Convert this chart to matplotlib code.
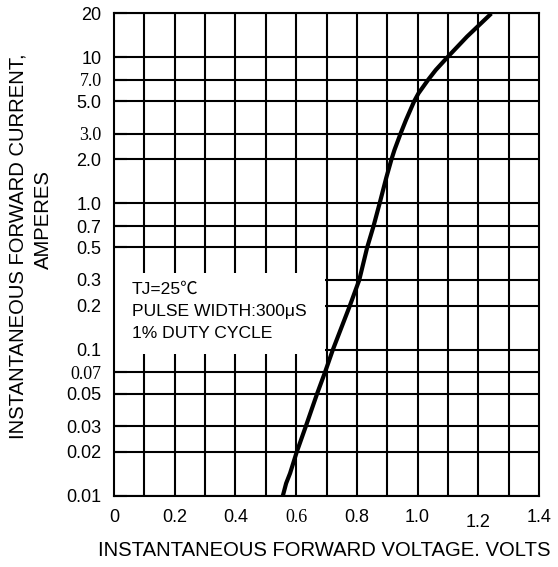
import matplotlib.pyplot as plt
from matplotlib.patches import Rectangle

# curve
volts = [0.556, 0.567, 0.580, 0.602, 0.632, 0.669, 0.695, 0.721, 0.777, 0.808,
         0.834, 0.855, 0.875, 0.897, 0.914, 0.924, 0.944, 0.962, 0.989, 1.003,
         1.035, 1.060, 1.099, 1.163, 1.238]
amps = [0.010, 0.0122, 0.0143, 0.020, 0.030, 0.050, 0.070, 0.10, 0.20, 0.30,
        0.50, 0.70, 1.0, 1.5, 2.0, 2.32, 3.0, 3.72, 5.0, 5.65,
        7.0, 8.16, 10.0, 13.8, 19.4]

y_ticks = [20, 10, 7, 5, 3, 2, 1, 0.7, 0.5, 0.3, 0.2, 0.1, 0.07, 0.05, 0.03, 0.02, 0.01]
y_labels = ['20', '10', '7.0', '5.0', '3.0', '2.0', '1.0', '0.7', '0.5', '0.3', '0.2',
            '0.1', '0.07', '0.05', '0.03', '0.02', '0.01']
serif_y = ['7.0', '3.0', '0.07']
x_ticks = [0, 0.2, 0.4, 0.6, 0.8, 1.0, 1.2, 1.4]
x_labels = ['0', '0.2', '0.4', '0.6', '0.8', '1.0', '1.2', '1.4']
x_grid = [round(0.1 * i, 1) for i in range(1, 14)]

plt.rcParams['font.family'] = ['Liberation Sans', 'DejaVu Sans']

fig = plt.figure(figsize=(5.58, 5.67), dpi=100)
ax = fig.add_axes([114 / 558, 1 - 496 / 567, 425 / 558, 483 / 567])
ax.set_yscale('log')
ax.set_xlim(0, 1.4)
ax.set_ylim(0.01, 20)

lw = 1.5
for v in x_grid:
    ax.axvline(v, color='black', lw=lw, zorder=2.2 if v == 0.7 else 1.5)
for a in y_ticks:
    ax.axhline(a, color='black', lw=lw, zorder=1.5)

# blank area for the notes
ax.add_patch(Rectangle((0, 0.0935), 0.695, 0.334 - 0.0935, facecolor='white',
                       edgecolor='none', zorder=2))

ax.plot(volts, amps, color='black', lw=3, zorder=3, solid_joinstyle='round')

ax.text(0.058, 0.26, 'TJ=25\u2103', fontsize=12.6, va='center', zorder=4,
        family=['Liberation Sans', 'Noto Sans CJK SC', 'DejaVu Sans'])
ax.text(0.058, 0.181, 'PULSE WIDTH:300\u03bcS', fontsize=12.6, va='center', zorder=4)
ax.text(0.058, 0.128, '1% DUTY CYCLE', fontsize=12.6, va='center', zorder=4)

ax.set_yticks(y_ticks)
ax.set_yticklabels(y_labels)
ax.yaxis.set_minor_locator(plt.NullLocator())
ax.set_xticks(x_ticks)
ax.set_xticklabels(x_labels)
ax.tick_params(axis='y', direction='in', length=9.5, width=lw, labelsize=13, pad=9)
ax.tick_params(axis='x', direction='in', length=0, labelsize=13, pad=9)
for lab in ax.get_yticklabels():
    if lab.get_text() in serif_y:
        lab.set_family('Liberation Serif')
for lab in ax.get_xticklabels():
    if lab.get_text() == '0.6':
        lab.set_family('Liberation Serif')
    if lab.get_text() == '1.2':
        lab.set_y(-0.012)
for s in ax.spines.values():
    s.set_linewidth(lw)
    s.set_zorder(2.5)

fig.text(324 / 558, 1 - 551 / 567, 'INSTANTANEOUS FORWARD VOLTAGE. VOLTS', fontsize=14.6,
         ha='center', va='center')
fig.text(18 / 558, 1 - 246 / 567, 'INSTANTANEOUS FORWARD CURRENT,', fontsize=14.6,
         ha='center', va='center', rotation=90)
fig.text(43 / 558, 1 - 220 / 567, 'AMPERES', fontsize=14.6,
         ha='center', va='center', rotation=90)

fig.savefig('out.png', dpi=100)
